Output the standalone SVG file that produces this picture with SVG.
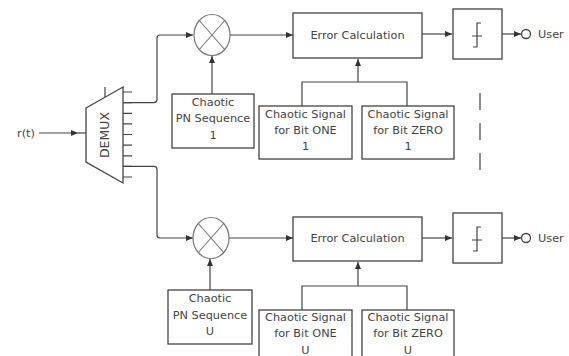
<svg xmlns="http://www.w3.org/2000/svg" width="569" height="356" viewBox="0 0 569 356">
<defs>
<marker id="ah" markerWidth="7" markerHeight="6" refX="7" refY="3" orient="auto" markerUnits="userSpaceOnUse">
<path d="M0,0 L7,3 L0,6 Z" fill="#333"/>
</marker>
<style>
.b{fill:#fff;stroke:#444;stroke-width:1.3}
.l{fill:none;stroke:#444;stroke-width:1.2}
.m{fill:#fff;stroke:#777;stroke-width:1.2}
.mx{stroke:#777;stroke-width:1.1}
.t{font-family:"DejaVu Sans",sans-serif;font-size:11.3px;fill:#444;text-anchor:middle}
.tl{font-family:"DejaVu Sans",sans-serif;font-size:11.3px;fill:#444}
.d{font-family:"DejaVu Sans",sans-serif;font-size:12.5px;fill:#444;text-anchor:middle}
</style>
</defs>
<rect width="569" height="356" fill="#fff"/>

<g id="connectors">
<path class="l" d="M39,133 H78" marker-end="url(#ah)"/>
<path class="l" d="M78,133 H86"/>
<path class="l" d="M123,102.6 H154 Q157,102.6 157,99.6 V38 Q157,35 160,35 H193" marker-end="url(#ah)"/>
<path class="l" d="M123,166.4 H154 Q157,166.4 157,169.4 V235 Q157,238 160,238 H193" marker-end="url(#ah)"/>
<path class="l" d="M230,35 H293" marker-end="url(#ah)"/>
<path class="l" d="M229,238 H293" marker-end="url(#ah)"/>
<path class="l" d="M212,94 V56" marker-end="url(#ah)"/>
<path class="l" d="M210,290 V259" marker-end="url(#ah)"/>
<path class="l" d="M302,106 V82 H407 V106"/>
<path class="l" d="M358,82 V59" marker-end="url(#ah)"/>
<path class="l" d="M302,310 V286 H407 V310"/>
<path class="l" d="M358,286 V262" marker-end="url(#ah)"/>
<path class="l" d="M422,34 H452" marker-end="url(#ah)"/>
<path class="l" d="M422,238 H452" marker-end="url(#ah)"/>
<path class="l" d="M502,34 H521" marker-end="url(#ah)"/>
<path class="l" d="M502,238 H521" marker-end="url(#ah)"/>
<path class="l" d="M480,93 V173" stroke-dasharray="17 13"/>
</g>

<g id="rt"><text class="tl" x="17" y="137">r(t)</text></g>

<g id="demux">
<polygon class="b" points="86,108 123,87 123,183 86,162"/>
<path class="l" d="M105,87 V97"/>
<path class="l" d="M123,92 H132 M123,102.6 H132 M123,113.3 H132 M123,123.9 H132 M123,134.5 H132 M123,145.1 H132 M123,155.8 H132 M123,166.4 H132 M123,177 H132"/>
<text class="d" transform="translate(108.5,135) rotate(-90)">DEMUX</text>
</g>

<g id="mult1">
<ellipse class="m" cx="212" cy="35" rx="18" ry="20.5"/>
<path class="mx" d="M199.3,20.5 L224.7,49.5 M224.7,20.5 L199.3,49.5"/>
</g>
<g id="mult2">
<ellipse class="m" cx="211" cy="238" rx="18" ry="20.5"/>
<path class="mx" d="M198.3,223.5 L223.7,252.5 M223.7,223.5 L198.3,252.5"/>
</g>

<g id="pn1">
<rect class="b" x="172" y="94" width="82" height="54"/>
<text class="t" x="213" y="106">Chaotic</text>
<text class="t" x="213" y="122">PN Sequence</text>
<text class="t" x="213" y="139">1</text>
</g>
<g id="pnU">
<rect class="b" x="168" y="290" width="84" height="54"/>
<text class="t" x="210" y="302">Chaotic</text>
<text class="t" x="210" y="319">PN Sequence</text>
<text class="t" x="210" y="335">U</text>
</g>

<g id="err1">
<rect class="b" x="293" y="13" width="129" height="45"/>
<text class="t" x="357.5" y="39">Error Calculation</text>
</g>
<g id="errU">
<rect class="b" x="293" y="217" width="129" height="44"/>
<text class="t" x="357.5" y="242">Error Calculation</text>
</g>

<g id="one1">
<rect class="b" x="259" y="106" width="93" height="53"/>
<text class="t" x="305.5" y="118">Chaotic Signal</text>
<text class="t" x="305.5" y="134">for Bit ONE</text>
<text class="t" x="305.5" y="150">1</text>
</g>
<g id="zero1">
<rect class="b" x="362" y="106" width="92" height="53"/>
<text class="t" x="408" y="118">Chaotic Signal</text>
<text class="t" x="408" y="134">for Bit ZERO</text>
<text class="t" x="408" y="150">1</text>
</g>
<g id="oneU">
<rect class="b" x="259" y="310" width="93" height="53"/>
<text class="t" x="305.5" y="321">Chaotic Signal</text>
<text class="t" x="305.5" y="337">for Bit ONE</text>
<text class="t" x="305.5" y="354">U</text>
</g>
<g id="zeroU">
<rect class="b" x="362" y="310" width="92" height="53"/>
<text class="t" x="408" y="321">Chaotic Signal</text>
<text class="t" x="408" y="337">for Bit ZERO</text>
<text class="t" x="408" y="354">U</text>
</g>

<g id="thr1">
<rect class="b" x="453" y="9" width="49" height="50"/>
<path class="l" d="M481,23 H477 V47 H473 M472,36 H482"/>
</g>
<g id="thrU">
<rect class="b" x="453" y="213" width="49" height="50"/>
<path class="l" d="M481,227 H477 V251 H473 M472,240 H482"/>
</g>

<g id="user1">
<circle class="b" cx="526" cy="34" r="4.5"/>
<text class="tl" x="538" y="38">User</text>
</g>
<g id="userU">
<circle class="b" cx="526" cy="238" r="4.5"/>
<text class="tl" x="538" y="242">User</text>
</g>
</svg>
